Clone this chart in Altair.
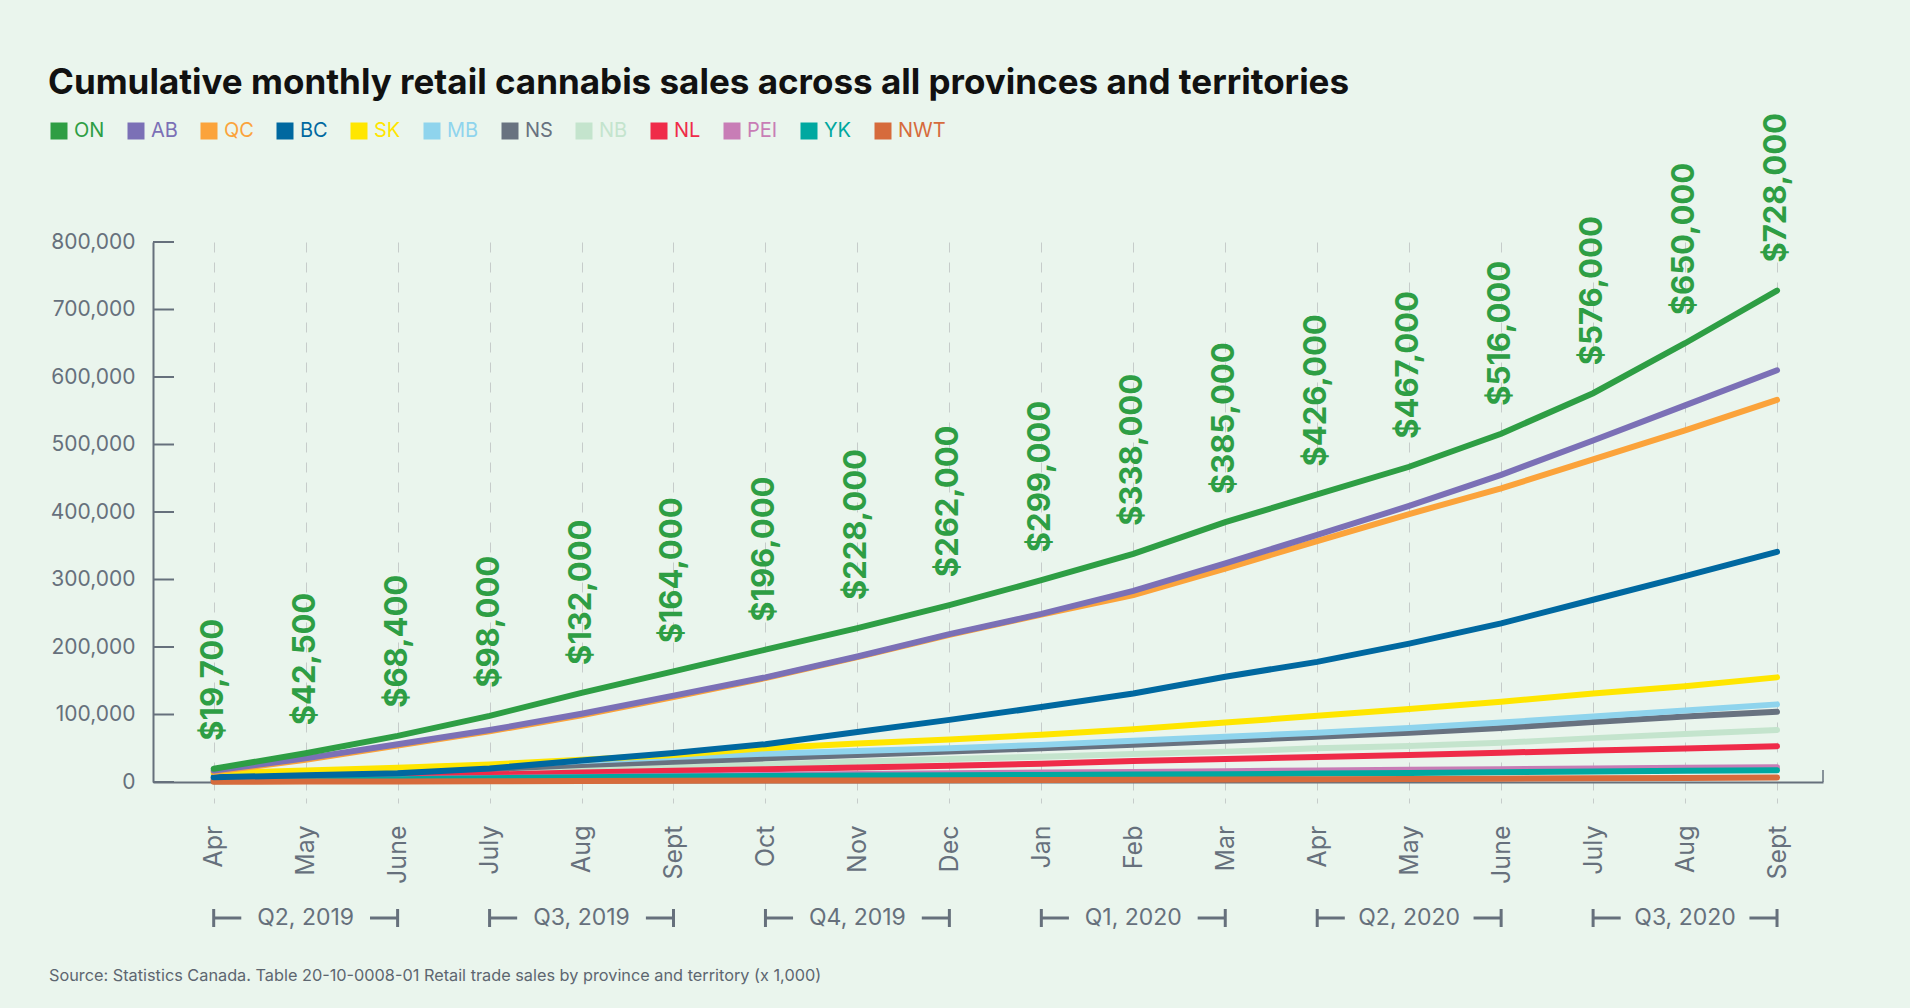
import altair as alt
import pandas as pd

MONTHS = ["Apr", "May", "June", "July", "Aug", "Sept", "Oct", "Nov", "Dec",
          "Jan", "Feb", "Mar", "Apr", "May", "June", "July", "Aug", "Sept"]
PROVINCES = ["ON", "AB", "QC", "BC", "SK", "MB", "NS", "NB", "NL", "PEI", "YK", "NWT"]
COLORS = ["#2e9e44", "#7b70b6", "#fba33b", "#0068a0", "#ffe600", "#8fd4ed",
          "#687280", "#c4e4cd", "#ef2b49", "#c87db6", "#00a8a0", "#d66b3c"]

ON = [19700, 42500, 68400, 98000, 132000, 164000, 196000, 228000, 262000,
      299000, 338000, 385000, 426000, 467000, 516000, 576000, 650000, 728000]
AB = [17000, 35000, 56000, 77000, 101000, 128000, 155000, 186000, 219000,
      249000, 283000, 324000, 366000, 409000, 455000, 506000, 558000, 610000]
QC = [15000, 33000, 54000, 75000, 99000, 126000, 154000, 185000, 218000,
      248000, 277000, 316000, 357000, 397000, 435000, 478000, 521000, 566000]
BC = [7000, 10000, 13000, 20000, 32000, 43000, 56000, 74000, 92000,
      111000, 131000, 156000, 178000, 205000, 235000, 270000, 305000, 341000]
SK = [13000, 17000, 21000, 26000, 33000, 40000, 50000, 57000, 63000,
      70000, 78000, 88000, 98000, 108000, 119000, 131000, 142000, 155000]
MB = [10000, 14000, 18000, 24000, 31000, 37000, 42000, 46000, 50000,
      55000, 61000, 67000, 73000, 80000, 88000, 97000, 106000, 115000]
NS = [6000, 10000, 14000, 19000, 25000, 30000, 35000, 40000, 45000,
      50000, 55000, 61000, 67000, 73000, 80000, 89000, 97000, 104000]
NB = [3000, 6000, 9000, 13000, 18000, 22000, 26000, 30000, 34000,
      37500, 41500, 45000, 50000, 53500, 58000, 65000, 71000, 77000]
NL = [3000, 5500, 8000, 11000, 14000, 16500, 19000, 21500, 24000,
      27000, 31000, 34000, 37000, 40000, 43500, 46500, 49500, 53000]
PEI = [1500, 3000, 4500, 6000, 7500, 9000, 10500, 12000, 13000,
       14000, 15000, 16000, 17000, 18000, 19000, 20000, 21000, 22000]
YK = [1000, 2500, 4000, 5500, 7000, 8000, 9000, 9500, 10000,
      10500, 11000, 11500, 12500, 13500, 14500, 15500, 16500, 17500]
NWT = [300, 600, 900, 1200, 1500, 1800, 2100, 2400, 2700,
       3000, 3400, 3800, 4200, 4600, 5000, 5400, 6000, 6800]

SERIES = {"ON": ON, "AB": AB, "QC": QC, "BC": BC, "SK": SK, "MB": MB, "NS": NS,
          "NB": NB, "NL": NL, "PEI": PEI, "YK": YK, "NWT": NWT}

Y_TICKS = [0, 100000, 200000, 300000, 400000, 500000, 600000, 700000, 800000]
QUARTERS = ["Q2, 2019", "Q3, 2019", "Q4, 2019", "Q1, 2020", "Q2, 2020", "Q3, 2020"]
Q_START = [0, 3, 6, 9, 12, 15]
Q_SPAN = 2

TITLE = "Cumulative monthly retail cannabis sales across all provinces and territories"
SOURCE = "Source: Statistics Canada. Table 20-10-0008-01 Retail trade sales by province and territory (x 1,000)"

rows = []
for p in PROVINCES:
    for i, v in enumerate(SERIES[p]):
        rows.append({"idx": i, "month": MONTHS[i], "province": p, "value": v})
df = pd.DataFrame(rows)

W, H = 1670, 540
BG = "#eaf5ed"
GRAY = "#66707c"
GRID = "#c6ccca"
FONT = "Inter"

xscale = alt.Scale(domain=[-0.66, 17.5], nice=False, zero=False)
yscale = alt.Scale(domain=[0, 800000], nice=False, zero=True)

label_expr = "[" + ",".join("'%s'" % m for m in MONTHS) + "][datum.value]"

xaxis = alt.Axis(values=list(range(len(MONTHS))), labelExpr=label_expr, title=None,
                 labelAngle=270, labelFont=FONT, labelFontSize=25, labelColor=GRAY,
                 labelPadding=22, tickSize=21, tickColor=GRID, tickDash=[8, 8], tickWidth=1,
                 grid=True, gridColor=GRID, gridDash=[10, 10], gridWidth=1,
                 domainColor=GRAY, domainWidth=2)
yaxis = alt.Axis(values=Y_TICKS, format=",d", title=None, labelFont=FONT, labelFontSize=21,
                 labelColor=GRAY, labelPadding=18, ticks=False, grid=False,
                 domainColor=GRAY, domainWidth=2)


def X(field):
    return alt.X(field, type="quantitative", scale=xscale, axis=xaxis)


def Y(field):
    return alt.Y(field, type="quantitative", scale=yscale, axis=yaxis)


legend = alt.Legend(orient="none", legendX=-104, legendY=-121, direction="horizontal",
                    title=None, symbolType="square", symbolSize=4, symbolStrokeWidth=15,
                    labelFont=FONT, labelFontSize=20, labelOffset=5, columnPadding=0,
                    padding=0, labelColor={"expr": "scale('color', datum.value)"})
color = alt.Color("province:N", scale=alt.Scale(domain=PROVINCES, range=COLORS), legend=legend)

DRAW_ORDER = ["NB", "NS", "MB", "NL", "PEI", "YK", "NWT", "SK", "BC", "QC", "AB", "ON"]
line_layers = [
    alt.Chart(df).transform_filter(alt.datum.province == p)
    .mark_line(strokeWidth=6, strokeCap="round")
    .encode(x=X("idx"), y=Y("value"), color=color)
    for p in DRAW_ORDER
]

on_df = pd.DataFrame({"idx": list(range(len(ON))), "value": ON})
labels = (alt.Chart(on_df)
          .transform_calculate(label="'$' + format(datum.value, ',')")
          .mark_text(angle=270, align="left", baseline="middle", dx=28, font=FONT,
                     fontSize=31, fontWeight="bold", color=COLORS[0])
          .encode(x=X("idx"), y=Y("value"), text="label:N"))

tick_df = pd.DataFrame({"value": Y_TICKS})
yticks = (alt.Chart(tick_df).mark_rule(color=GRAY, strokeWidth=2)
          .encode(y=Y("value"), x=alt.value(0), x2=alt.value(21)))

endcap = (alt.Chart(pd.DataFrame({"a": [0]})).mark_rule(color=GRAY, strokeWidth=1.5)
          .encode(x=alt.value(W), y=alt.value(H), y2=alt.value(H - 12)))

qdf = pd.DataFrame({"q": QUARTERS, "start": Q_START})
qdf["end"] = qdf["start"] + Q_SPAN
qdf["mid"] = qdf["start"] + Q_SPAN / 2
qdf["l2"] = qdf["start"] + 0.3
qdf["r1"] = qdf["end"] - 0.3

QY = H + 136
q_left = (alt.Chart(qdf).mark_rule(color=GRAY, strokeWidth=3)
          .encode(x=X("start"), x2="l2:Q", y=alt.value(QY)))
q_right = (alt.Chart(qdf).mark_rule(color=GRAY, strokeWidth=3)
           .encode(x=X("r1"), x2="end:Q", y=alt.value(QY)))
q_bar1 = (alt.Chart(qdf).mark_rule(color=GRAY, strokeWidth=3)
          .encode(x=X("start"), y=alt.value(QY - 9), y2=alt.value(QY + 9)))
q_bar2 = (alt.Chart(qdf).mark_rule(color=GRAY, strokeWidth=3)
          .encode(x=X("end"), y=alt.value(QY - 9), y2=alt.value(QY + 9)))
q_text = (alt.Chart(qdf).mark_text(font=FONT, fontSize=23, color=GRAY, align="center", baseline="middle")
          .encode(x=X("mid"), y=alt.value(QY), text="q:N"))

title = (alt.Chart(pd.DataFrame({"t": [TITLE]}))
         .mark_text(font=FONT, fontSize=35, fontWeight="bold", color="#111111", align="left", baseline="middle")
         .encode(x=alt.value(-105), y=alt.value(-159), text="t:N"))
source = (alt.Chart(pd.DataFrame({"t": [SOURCE]}))
          .mark_text(font=FONT, fontSize=16.3, color="#5d6670", align="left", baseline="middle")
          .encode(x=alt.value(-104), y=alt.value(H + 194), text="t:N"))

chart = (alt.layer(*line_layers, yticks, endcap, labels, q_left, q_right, q_bar1, q_bar2, q_text, title, source)
         .properties(width=W, height=H,
                     padding={"left": 153, "top": 242, "right": 87, "bottom": 226},
                     autosize=alt.AutoSizeParams(type="none"))
         .configure(background=BG)
         .configure_view(stroke=None))

chart.save("out.html", embed_options={"renderer": "svg", "actions": False})
